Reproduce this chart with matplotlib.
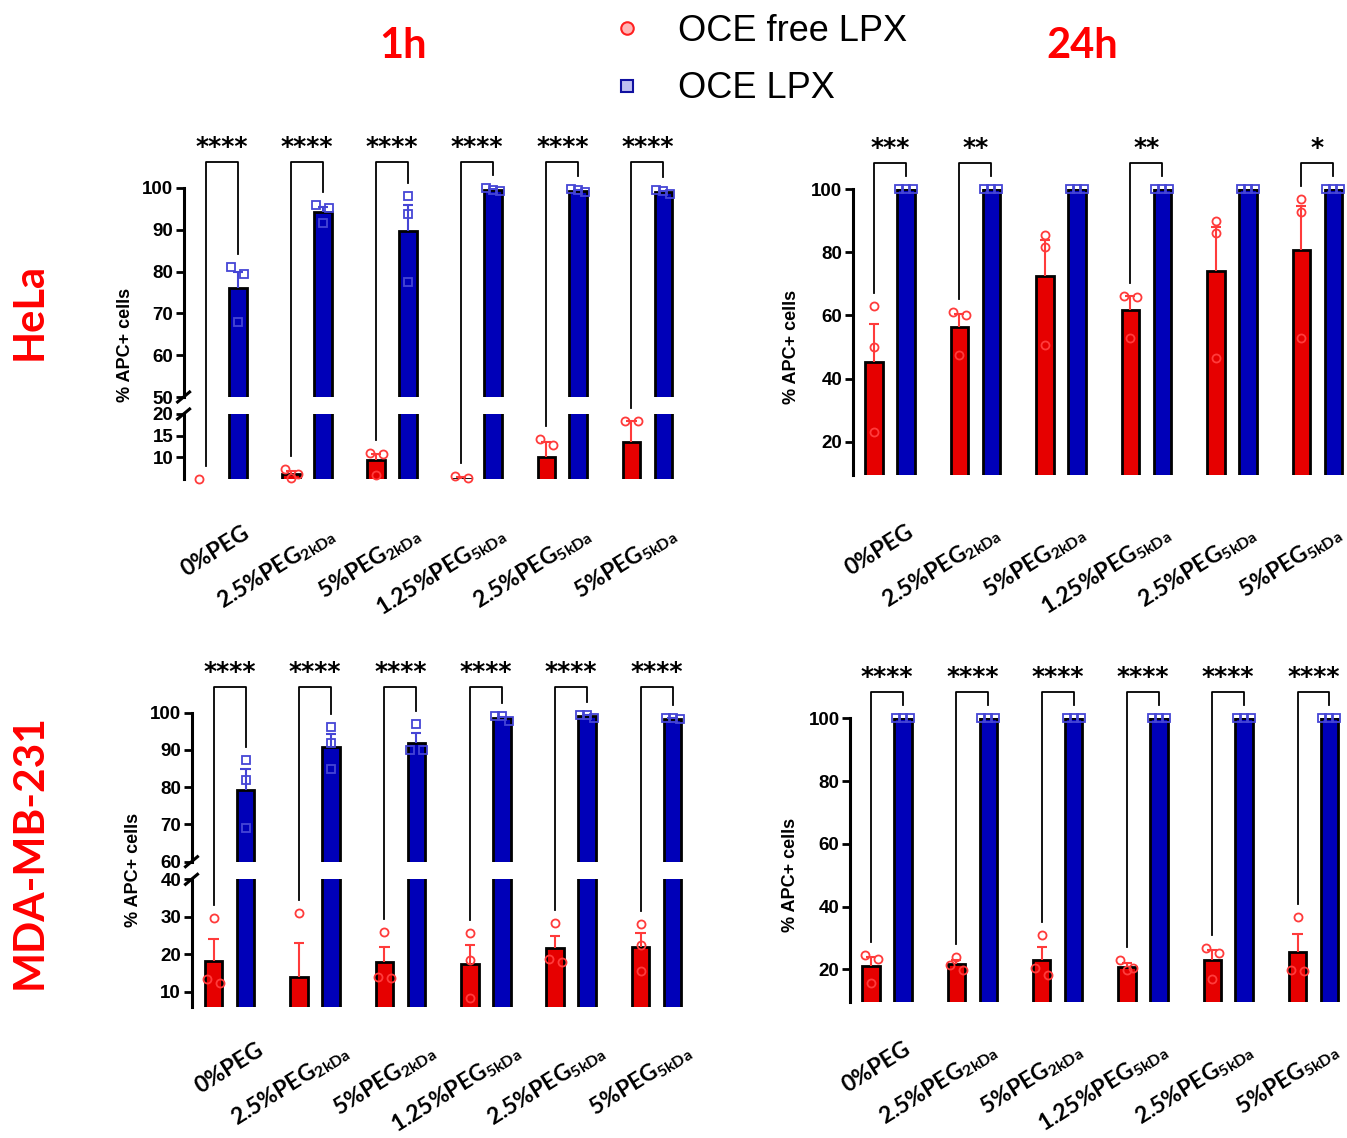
import matplotlib
matplotlib.use("Agg")
import matplotlib.pyplot as plt
from matplotlib.lines import Line2D
from matplotlib import transforms as mtransforms
import numpy as np

plt.rcParams['font.family'] = ['Liberation Sans', 'DejaVu Sans']
plt.rcParams['mathtext.default'] = 'regular'

# ------------------------------------------------------------------ data
categories = ["0%PEG", r"2.5%PEG$_{2kDa}$", r"5%PEG$_{2kDa}$",
              r"1.25%PEG$_{5kDa}$", r"2.5%PEG$_{5kDa}$", r"5%PEG$_{5kDa}$"]
series_names = ["OCE free LPX", "OCE LPX"]
time_titles = ["1h", "24h"]
cell_lines = ["HeLa", "MDA-MB-231"]
y_label = "% APC+ cells"

# HeLa, 1h
hela_1h_free_mean = [3.8, 6.1, 9.2, 4.8, 10.0, 13.5]
hela_1h_free_sem = [0.7, 0.6, 1.6, 0.6, 3.4, 4.9]
hela_1h_free_pts = [[5.0, 3.5, 2.8], [7.2, 6.0, 5.2], [11.0, 10.8, 5.8],
                    [5.6, 5.2, 3.6], [14.1, 12.8, 3.1], [18.4, 18.4, 3.7]]
hela_1h_lpx_mean = [76.1, 94.3, 89.7, 99.6, 99.4, 99.1]
hela_1h_lpx_sem = [3.9, 1.2, 6.3, 0.2, 0.2, 0.3]
hela_1h_lpx_pts = [[81.0, 79.4, 68.0], [95.9, 95.3, 91.6], [98.0, 93.8, 77.4],
                   [99.9, 99.6, 99.4], [99.8, 99.5, 99.0], [99.5, 99.2, 98.6]]
hela_1h_sig = ["****", "****", "****", "****", "****", "****"]

# HeLa, 24h
hela_24h_free_mean = [45.4, 56.2, 72.6, 61.7, 74.2, 80.8]
hela_24h_free_sem = [11.8, 4.4, 11.2, 4.5, 14.0, 14.0]
hela_24h_free_pts = [[63.0, 50.1, 23.1], [61.0, 60.2, 47.4], [85.5, 81.8, 50.5],
                     [66.3, 66.0, 52.8], [90.1, 86.1, 46.4], [96.9, 92.7, 52.8]]
hela_24h_lpx_mean = [100.0, 100.0, 100.0, 100.0, 100.0, 100.0]
hela_24h_lpx_sem = [0.0, 0.0, 0.0, 0.0, 0.0, 0.0]
hela_24h_lpx_pts = [[100.0, 100.0, 100.0], [100.0, 100.0, 100.0], [100.0, 100.0, 100.0],
                    [100.0, 100.0, 100.0], [100.0, 100.0, 100.0], [100.0, 100.0, 100.0]]
hela_24h_sig = ["***", "**", "", "**", "", "*"]

# MDA-MB-231, 1h
mda_1h_free_mean = [18.2, 14.0, 17.8, 17.5, 21.6, 22.0]
mda_1h_free_sem = [5.8, 9.1, 4.2, 5.0, 3.4, 3.8]
mda_1h_free_pts = [[29.6, 13.4, 12.2], [31.1, 5.6, 5.3], [26.0, 13.8, 13.6],
                   [25.8, 18.5, 8.2], [28.3, 18.7, 18.0], [28.1, 22.5, 15.4]]
mda_1h_lpx_mean = [79.2, 90.7, 92.0, 98.5, 99.1, 98.4]
mda_1h_lpx_sem = [5.6, 3.5, 2.6, 0.4, 0.3, 0.2]
mda_1h_lpx_pts = [[87.3, 81.9, 69.0], [96.2, 92.0, 84.8], [97.0, 90.0, 90.0],
                  [99.1, 99.1, 97.9], [99.4, 99.4, 98.5], [98.7, 98.5, 98.3]]
mda_1h_sig = ["****", "****", "****", "****", "****", "****"]

# MDA-MB-231, 24h
mda_24h_free_mean = [21.2, 21.6, 23.0, 20.8, 23.0, 25.4]
mda_24h_free_sem = [2.8, 1.4, 4.0, 1.1, 3.0, 5.7]
mda_24h_free_pts = [[24.6, 23.3, 15.7], [24.0, 21.4, 19.8], [30.9, 20.3, 18.2],
                    [23.0, 20.5, 19.8], [26.7, 25.3, 17.0], [36.8, 19.8, 19.6]]
mda_24h_lpx_mean = [100.0, 100.0, 100.0, 100.0, 100.0, 100.0]
mda_24h_lpx_sem = [0.0, 0.0, 0.0, 0.0, 0.0, 0.0]
mda_24h_lpx_pts = [[100.0, 100.0, 100.0], [100.0, 100.0, 100.0], [100.0, 100.0, 100.0],
                   [100.0, 100.0, 100.0], [100.0, 100.0, 100.0], [100.0, 100.0, 100.0]]
mda_24h_sig = ["****", "****", "****", "****", "****", "****"]

# ------------------------------------------------------------------ style
W, H, DPI = 1347, 1138, 100
RED_BAR = "#E60000"
BLUE_BAR = "#0000B8"
RED_PT = "#FF3B3B"
BLUE_PT = "#4545D5"
TITLE_RED = "#FF0000"
BAR_W = 0.205
OFF = 0.187
LABEL_FONT = ["Lato", "DejaVu Sans"]

fig = plt.figure(figsize=(W / DPI, H / DPI), dpi=DPI)
fig.patch.set_facecolor("white")

panels = [
    dict(free=(hela_1h_free_mean, hela_1h_free_sem, hela_1h_free_pts),
         lpx=(hela_1h_lpx_mean, hela_1h_lpx_sem, hela_1h_lpx_pts), sig=hela_1h_sig,
         axis_x=183.6, spacing=85.1, xlim=(-0.45, 5.45), ylab_x=126, ylab_y=345,
         lab_dx=0.20, lab_dy=0.43,
         segments=[((50, 100), 188, 397, [50, 60, 70, 80, 90, 100]),
                   ((4.8, 20), 414, 479.4, [10, 15, 20])]),
    dict(free=(hela_24h_free_mean, hela_24h_free_sem, hela_24h_free_pts),
         lpx=(hela_24h_lpx_mean, hela_24h_lpx_sem, hela_24h_lpx_pts), sig=hela_24h_sig,
         axis_x=852.5, spacing=85.5, xlim=(-0.436, 5.40), ylab_x=792, ylab_y=347,
         lab_dx=0.16, lab_dy=0.46,
         segments=[((9.5, 100), 189.3, 474.8, [20, 40, 60, 80, 100])]),
    dict(free=(mda_1h_free_mean, mda_1h_free_sem, mda_1h_free_pts),
         lpx=(mda_1h_lpx_mean, mda_1h_lpx_sem, mda_1h_lpx_pts), sig=mda_1h_sig,
         axis_x=191.5, spacing=85.4, xlim=(-0.446, 5.446), ylab_x=133, ylab_y=870,
         lab_dx=0.26, lab_dy=0.32,
         segments=[((60, 100), 712.7, 861.7, [60, 70, 80, 90, 100]),
                   ((6, 40), 879.3, 1006.7, [10, 20, 30, 40])]),
    dict(free=(mda_24h_free_mean, mda_24h_free_sem, mda_24h_free_pts),
         lpx=(mda_24h_lpx_mean, mda_24h_lpx_sem, mda_24h_lpx_pts), sig=mda_24h_sig,
         axis_x=850, spacing=85.3, xlim=(-0.434, 5.40), ylab_x=790, ylab_y=875,
         lab_dx=0.16, lab_dy=0.36,
         segments=[((9.6, 100), 718.3, 1001.9, [20, 40, 60, 80, 100])]),
]


def seg_for(axes, segs, v):
    for ax, s in zip(axes, segs):
        if v >= s[0][0]:
            return ax
    return axes[-1]


def ydisp(axes, segs, v):
    ax = seg_for(axes, segs, v)
    return ax.transData.transform((0, v))[1]


def swarm(values, axes, segs):
    ypx = [ydisp(axes, segs, v) for v in values]
    order = sorted(range(len(values)), key=lambda i: -ypx[i])
    offs = [0.0] * len(values)
    clusters = []
    for i in order:
        if clusters and abs(ypx[clusters[-1][0]] - ypx[i]) < 8:
            clusters[-1].append(i)
        else:
            clusters.append([i])
    for c in clusters:
        n = len(c)
        step = 13.0 if n == 2 else 7.0
        for k, i in enumerate(c):
            offs[i] = (k - (n - 1) / 2) * step
    return offs


for p in panels:
    segs = p["segments"]
    sp = p["spacing"]
    x0, x1 = p["xlim"]
    width_px = (x1 - x0) * sp
    axes = []
    for (ylim, top, bot, ticks) in segs:
        ax = fig.add_axes([p["axis_x"] / W, 1 - bot / H, width_px / W, (bot - top) / H])
        ax.set_xlim(x0, x1)
        ax.set_ylim(*ylim)
        ax.set_facecolor("none")
        for s in ("top", "right", "bottom"):
            ax.spines[s].set_visible(False)
        ax.spines["left"].set_linewidth(2.2)
        ax.set_yticks(ticks, labels=[str(t) for t in ticks],
                      fontsize=13.5, fontweight="bold")
        ax.tick_params(axis="y", direction="out", length=5.5, width=2.0, pad=2)
        ax.tick_params(axis="x", length=0, labelbottom=False)
        axes.append(ax)

    xg = np.arange(len(categories))
    fm, fs, fp = p["free"]
    lm, ls_, lp = p["lpx"]
    for ax, s in zip(axes, segs):
        ax.bar(xg - OFF, fm, width=BAR_W, color=RED_BAR, edgecolor="black", linewidth=2.0, zorder=2)
        ax.bar(xg + OFF, lm, width=BAR_W, color=BLUE_BAR, edgecolor="black", linewidth=2.0, zorder=2)
        for xs, m, e, col in ((xg - OFF, fm, fs, RED_PT), (xg + OFF, lm, ls_, BLUE_PT)):
            m = np.asarray(m); e = np.asarray(e)
            mask = e > 0
            ax.vlines(xs[mask], m[mask], (m + e)[mask], color=col, lw=1.5, zorder=3)
            ax.hlines((m + e)[mask], xs[mask] - 0.06, xs[mask] + 0.06, color=col, lw=1.5, zorder=3)

    # points
    for g in range(len(categories)):
        for pts, xc, col, mk in ((fp[g], g - OFF, RED_PT, "o"), (lp[g], g + OFF, BLUE_PT, "s")):
            offs = swarm(pts, axes, segs)
            for v, o in zip(pts, offs):
                for ax, s in zip(axes, segs):
                    lo, hi = s[0]
                    if lo <= v <= hi + 2:
                        ax.plot([xc + o / sp], [v], ls="none", marker=mk, ms=5.8,
                                mfc="none", mec=col, mew=1.3, zorder=4, clip_on=False)
                        break

    # break marks
    if len(axes) == 2:
        xa = axes[0].transAxes.transform((0, 0))[0]
        yb = axes[0].transAxes.transform((0, 0))[1]
        yt = axes[1].transAxes.transform((0, 1))[1]
        for yy in (yb, yt):
            fig.add_artist(Line2D([(xa - 6) / W, (xa + 6) / W], [(yy - 5) / H, (yy + 5) / H],
                                  color="black", lw=2.2))

    # brackets and stars
    y100 = ydisp(axes, segs, 100)
    ybr = y100 + 26
    for g, lab in enumerate(p["sig"]):
        if not lab:
            continue
        ftop = max(max(fp[g]), fm[g] + fs[g])
        ltop = max(max(lp[g]), lm[g] + ls_[g])
        yl = ydisp(axes, segs, ftop) + 13
        yr = ydisp(axes, segs, ltop) + 13
        xl = axes[0].transData.transform((g - OFF, 0))[0]
        xr = axes[0].transData.transform((g + OFF, 0))[0]
        fig.add_artist(Line2D([xl / W, xl / W, xr / W, xr / W],
                              [yl / H, ybr / H, ybr / H, yr / H], color="black", lw=1.3))
        fig.text((xl + xr) / 2 / W, (ybr + 15) / H, lab, ha="center", va="center",
                 fontsize=18, fontweight="bold", family="DejaVu Sans")

    # category labels
    axl = axes[-1]
    tr = mtransforms.blended_transform_factory(axl.transData, axl.transAxes) + \
        mtransforms.ScaledTranslation(p["lab_dx"], -p["lab_dy"], fig.dpi_scale_trans)
    for g, c in enumerate(categories):
        axl.text(g, 0, c, transform=tr, rotation=32, rotation_mode="anchor",
                 ha="right", va="top", fontsize=16.5, fontweight="bold",
                 family=LABEL_FONT, clip_on=False)

    fig.text(p["ylab_x"] / W, 1 - p["ylab_y"] / H, y_label, rotation=90,
             ha="center", va="center", fontsize=13, fontweight="bold")

# titles / row labels
fig.text(403 / W, 1 - 46 / H, time_titles[0], ha="center", va="center", color=TITLE_RED,
         fontsize=30, fontweight="bold", family=LABEL_FONT)
fig.text(1082 / W, 1 - 46 / H, time_titles[1], ha="center", va="center", color=TITLE_RED,
         fontsize=30, fontweight="bold", family=LABEL_FONT)
fig.text(30 / W, 1 - 312 / H, cell_lines[0], rotation=90, ha="center", va="center",
         color=TITLE_RED, fontsize=30, fontweight="bold", family=LABEL_FONT)
fig.text(30 / W, 1 - 852 / H, cell_lines[1], rotation=90, ha="center", va="center",
         color=TITLE_RED, fontsize=30.5, fontweight="bold", family=LABEL_FONT)

# legend
handles = [
    Line2D([], [], ls="none", marker="o", ms=9, mfc="#FFB8B8", mec="#FF2020", mew=1.5, label=series_names[0]),
    Line2D([], [], ls="none", marker="s", ms=9, mfc="#C0C0F0", mec="#1010A0", mew=1.5, label=series_names[1]),
]
fig.legend(handles=handles, loc="center left", bbox_to_anchor=(613 / W, 1 - 60 / H),
           frameon=False, fontsize=26, handlelength=0.8, handletextpad=1.0,
           labelspacing=0.62, borderpad=0, borderaxespad=0)

fig.savefig("out.png", dpi=DPI, facecolor="white")
